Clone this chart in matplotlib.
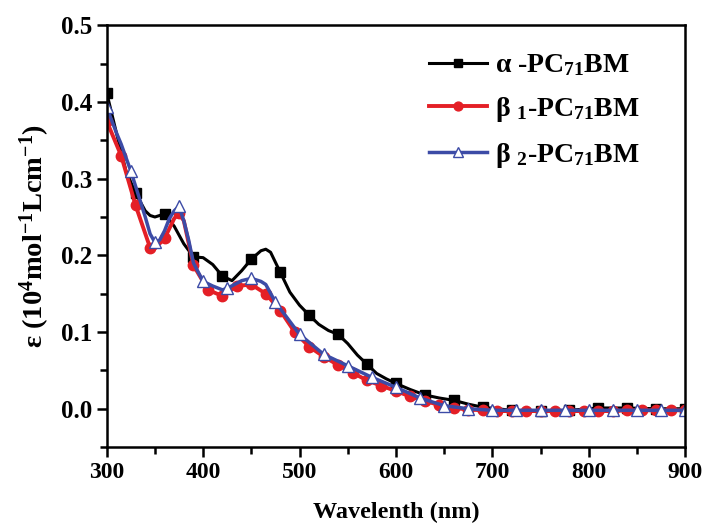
import matplotlib
matplotlib.use("Agg")
import matplotlib.pyplot as plt
from matplotlib.ticker import MultipleLocator

plt.rcParams['font.family'] = ['Liberation Serif', 'DejaVu Serif']
plt.rcParams['font.weight'] = 'bold'
plt.rcParams['mathtext.fontset'] = 'custom'
plt.rcParams['mathtext.rm'] = 'Liberation Serif:bold'
plt.rcParams['mathtext.it'] = 'Liberation Serif:bold'
plt.rcParams['mathtext.bf'] = 'Liberation Serif:bold'

# alpha-PC71BM (squares every 30 nm)
alpha_wl = [300, 310, 320, 330, 340, 345, 350, 360, 370, 380, 390, 400, 410, 420,
            430, 440, 450, 460, 465, 470, 480, 490, 500, 510, 520, 530, 540, 550,
            560, 570, 580, 590, 600, 615, 630, 645, 660, 675, 690, 720, 750, 780,
            810, 840, 870, 900]
alpha_eps = [0.412, 0.36, 0.31, 0.281, 0.258, 0.252, 0.25, 0.254, 0.238, 0.215,
             0.198, 0.197, 0.188, 0.173, 0.167, 0.18, 0.195, 0.206, 0.208, 0.204,
             0.178, 0.152, 0.135, 0.122, 0.11, 0.102, 0.097, 0.085, 0.07, 0.058,
             0.046, 0.039, 0.033, 0.025, 0.018, 0.014, 0.011, 0.006, 0.002, -0.002,
             -0.003, -0.002, 0.001, 0.001, 0.0, 0.0]

# beta1-PC71BM (circles every 15 nm)
beta1_wl = [300, 315, 330, 345, 350, 360, 370, 375, 380, 390, 405, 420, 435, 450,
            465, 480, 495, 510, 525, 540, 555, 570, 585, 600, 615, 630, 645, 660,
            675, 690, 705, 720, 735, 750, 765, 780, 795, 810, 825, 840, 855, 870,
            885, 900]
beta1_eps = [0.375, 0.33, 0.265, 0.21, 0.209, 0.222, 0.248, 0.255, 0.245, 0.187,
             0.155, 0.147, 0.16, 0.162, 0.15, 0.128, 0.1, 0.081, 0.068, 0.057,
             0.047, 0.037, 0.03, 0.023, 0.016, 0.01, 0.005, 0.001, -0.001, -0.002,
             -0.003, -0.003, -0.003, -0.003, -0.003, -0.003, -0.003, -0.003,
             -0.003, -0.002, -0.002, -0.002, -0.002, -0.002]

# beta2-PC71BM (triangles every 25 nm)
beta2_wl = [300, 310, 315, 325, 340, 345, 350, 355, 360, 365, 370, 375, 380, 385,
            390, 400, 410, 420, 425, 440, 450, 460, 465, 475, 500, 525, 550, 575,
            600, 625, 650, 675, 700, 725, 750, 775, 800, 825, 850, 875, 900]
beta2_eps = [0.393, 0.36, 0.345, 0.31, 0.25, 0.228, 0.217, 0.22, 0.232, 0.248,
             0.258, 0.264, 0.245, 0.22, 0.19, 0.166, 0.16, 0.155, 0.157, 0.167,
             0.17, 0.166, 0.162, 0.139, 0.097, 0.071, 0.056, 0.041, 0.028, 0.014,
             0.004, 0.0, -0.002, -0.002, -0.002, -0.002, -0.002, -0.002, -0.002,
             -0.002, -0.002]


def mark_idx(wl, step):
    return [i for i, w in enumerate(wl) if (w - 300) % step == 0]


fig = plt.figure(figsize=(7.02, 5.26), dpi=100)
ax = fig.add_axes([0.152, 0.150, 0.824, 0.802])

ax.plot(alpha_wl, alpha_eps, color='black', lw=2.2, marker='s', ms=6.5,
        markevery=mark_idx(alpha_wl, 30), label=r'α -PC$_{71}$BM')
ax.plot(beta1_wl, beta1_eps, color='#e41f26', lw=2.8, marker='o', ms=7.5,
        markevery=mark_idx(beta1_wl, 15), label=r'β $_{1}$-PC$_{71}$BM')
ax.plot(beta2_wl, beta2_eps, color='#3c4ba6', lw=2.5, marker='^', ms=8.5,
        mfc='white', mec='#3c4ba6', mew=1,
        markevery=mark_idx(beta2_wl, 25), label=r'β $_{2}$-PC$_{71}$BM')

ax.set_xlim(300, 900)
ax.set_ylim(-0.05, 0.5)
ax.xaxis.set_major_locator(MultipleLocator(100))
ax.xaxis.set_minor_locator(MultipleLocator(50))
ax.yaxis.set_major_locator(MultipleLocator(0.1))
ax.yaxis.set_minor_locator(MultipleLocator(0.05))
ax.tick_params(which='major', direction='out', length=7.5, width=1.8,
               labelsize=17, pad=3)
ax.tick_params(axis='y', labelsize=18)
ax.tick_params(which='minor', direction='out', length=5, width=1.8)
for s in ax.spines.values():
    s.set_linewidth(1.8)
for lab in ax.get_xticklabels() + ax.get_yticklabels():
    lab.set_fontweight('bold')

ax.set_xlabel('Wavelenth (nm)', fontsize=17.5, fontweight='bold', labelpad=14)
ax.set_ylabel(r'ε (10$^{4}$mol$^{-1}$Lcm$^{-1}$)', fontsize=20.5,
              fontweight='bold', labelpad=6)

ax.legend(loc='upper right', bbox_to_anchor=(0.965, 0.995), frameon=False,
          prop={'size': 20, 'weight': 'bold'}, handlelength=2.1,
          handletextpad=0.3, labelspacing=0.6, markerscale=0.85)

fig.savefig('out.png', dpi=100)
